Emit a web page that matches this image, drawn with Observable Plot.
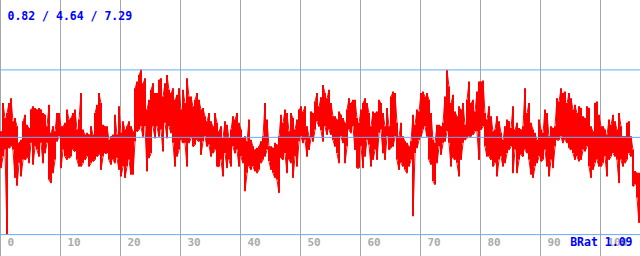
<!DOCTYPE html>
<html><head><meta charset="utf-8">
<script src="https://cdn.jsdelivr.net/npm/d3@7"></script>
<script src="https://cdn.jsdelivr.net/npm/@observablehq/plot@0.6"></script>
<style>html,body{margin:0;padding:0;background:#fff;overflow:hidden}</style>
</head><body><div id="chart"></div>
<script>
// Column-wise readings (one column = 1/3 x-unit): upper and lower excursions of the trace
const peaks = [
4.86,5.97,5.38,5.58,5.97,6.16,5.25,5.38,5.06,4.41,4.53,5.25,5.51,5.12,4.99,5.71,5.84,5.77,5.71,5.77,5.71,5.58,5.51,5.06,5.90,4.80,5.06,4.86,5.58,5.58,5.06,5.06,5.19,5.71,5.32,5.38,5.58,5.71,4.93,5.32,6.36,4.93,4.73,4.80,4.73,5.06,4.73,5.58,5.90,6.36,5.97,5.12,5.06,5.06,
4.53,4.66,4.73,5.51,4.73,5.84,4.80,5.25,4.93,5.06,5.25,5.06,4.86,6.55,6.81,7.07,7.29,6.75,6.94,5.71,6.10,6.49,6.75,6.36,6.36,6.88,6.94,6.23,6.75,7.07,6.49,6.36,6.55,6.10,6.29,6.55,5.71,6.49,5.97,6.94,6.23,6.23,5.84,6.10,6.36,6.10,5.71,5.77,5.45,5.25,5.58,5.25,5.06,
5.58,5.19,4.86,5.06,4.60,5.25,5.12,4.60,4.93,5.45,5.32,5.58,5.19,4.93,4.60,4.66,4.47,5.32,4.53,4.27,4.14,4.21,4.27,4.47,4.66,5.97,5.32,4.27,4.27,4.21,4.41,4.34,4.66,5.51,5.19,5.71,5.58,4.86,5.58,5.38,4.93,5.32,5.71,5.84,5.64,5.84,5.06,4.66,5.64,5.58,6.03,6.36,5.84,6.20,
6.68,6.36,6.16,6.49,5.97,5.45,5.45,5.32,5.64,5.51,5.38,5.19,5.71,6.16,5.97,6.10,6.10,5.38,5.19,5.71,5.97,6.16,5.97,5.58,5.06,5.64,5.58,5.64,6.10,5.97,5.58,5.06,5.77,5.06,6.23,6.42,6.36,5.19,4.66,5.19,4.66,4.47,4.41,4.27,4.47,5.51,5.12,5.71,5.64,6.36,6.42,6.23,6.36,
6.10,5.58,4.53,4.41,5.12,5.12,5.06,5.19,6.23,7.27,6.62,5.97,6.29,5.64,5.45,5.84,5.71,5.97,5.12,6.10,6.81,5.97,6.10,5.64,6.42,6.81,6.81,6.85,5.58,5.32,5.84,5.45,4.86,4.93,5.45,5.25,4.80,4.53,5.06,5.32,5.25,4.99,5.84,4.93,5.19,4.99,4.93,5.06,6.55,5.58,5.97,5.19,4.93,4.80,
4.53,5.32,4.93,4.80,5.71,5.58,4.66,5.06,4.99,5.06,6.16,6.03,6.55,6.36,6.42,5.97,6.36,6.16,5.71,5.90,5.58,5.84,5.77,5.45,5.38,5.84,5.77,5.06,4.86,5.97,6.03,5.51,5.06,5.06,4.93,4.73,5.32,5.12,5.51,5.25,4.93,5.58,5.06,4.66,4.66,5.19,5.25,4.66,4.14,3.30,3.23,3.23,1.86
];
const troughs = [
3.43,3.88,4.14,0.82,4.21,4.27,4.14,3.04,2.74,3.62,3.10,3.75,3.75,3.82,3.62,4.41,3.56,4.27,4.14,3.88,4.41,3.62,4.01,4.41,2.97,2.84,3.23,3.75,4.47,4.66,3.43,4.14,3.88,3.75,3.82,3.88,4.14,4.08,3.75,3.49,3.49,3.62,3.75,3.88,3.49,3.62,3.69,3.75,3.88,3.95,3.36,3.88,4.01,4.01,
3.75,3.56,3.75,3.62,3.82,3.36,3.10,3.49,3.04,3.49,3.75,3.17,3.17,4.47,4.86,4.93,5.06,4.66,5.06,3.30,3.82,4.01,5.06,4.60,5.06,4.66,4.93,4.08,5.19,4.60,5.06,4.80,4.41,3.49,3.88,4.14,4.53,4.41,4.41,3.49,4.41,4.60,4.27,4.34,4.53,4.47,3.95,4.47,4.66,4.27,4.34,3.88,4.01,
4.14,3.49,3.49,3.75,3.10,4.01,3.43,3.75,3.49,4.27,4.01,4.14,3.49,3.88,3.62,2.52,3.23,3.49,3.36,3.49,3.30,3.23,3.36,3.62,3.75,3.88,4.14,3.69,3.36,3.23,3.04,2.97,2.45,3.82,3.75,4.01,3.23,3.75,3.62,3.04,3.88,3.49,4.47,4.66,4.41,4.53,3.88,4.14,4.60,4.47,4.93,5.25,5.06,4.90,
4.47,5.06,4.73,4.93,4.73,4.53,4.27,4.01,3.62,4.66,4.41,3.62,4.27,4.93,4.80,5.06,4.14,3.43,3.43,4.27,3.43,3.88,4.53,4.34,3.49,3.75,4.14,3.75,4.80,4.93,4.01,3.75,4.66,4.14,4.21,4.27,4.66,3.75,3.36,3.62,3.49,3.36,3.23,3.49,3.75,1.54,4.01,4.21,4.53,4.66,4.93,5.06,4.66,
3.75,3.56,2.91,2.78,3.62,4.27,3.95,4.41,4.47,4.86,4.41,3.49,3.82,3.75,3.62,3.10,3.75,4.41,4.53,4.60,4.66,4.66,4.73,4.86,4.86,3.75,4.93,5.06,4.27,3.88,3.88,3.75,3.49,3.62,3.10,3.75,3.88,3.49,3.62,4.01,4.14,4.27,3.23,4.14,3.23,3.75,3.95,3.88,4.14,4.01,3.75,3.17,3.04,3.50,
3.62,3.88,3.69,3.75,4.14,3.49,3.10,3.75,3.43,4.27,4.53,4.53,4.66,4.41,4.53,4.41,4.21,4.14,4.01,3.75,3.88,3.69,3.75,4.14,4.08,4.27,3.49,3.04,3.36,3.62,3.75,3.49,3.49,3.62,3.88,3.10,3.75,3.88,4.01,3.88,3.75,2.84,3.75,3.49,3.62,3.75,4.01,3.88,2.71,2.78,2.26,1.28,1.41
];
const stats = [0.82, 4.64, 7.29];          // min / mean / max
const xTicks = [0, 10, 20, 30, 40, 50, 60, 70, 80, 90, 100];
const ratioName = "BRat";
const ratioValue = 1.09;

// One record per column: its centre position and its lower / upper excursion
const columnsPerUnit = 3;
const columns = peaks.map((h, i) => ({t: (i + 0.5) / columnsPerUnit, hi: h, lo: troughs[i]}));
// Zig-zag connection between neighbouring columns
const points = [];
columns.forEach((c, i) => {
  const pair = i % 2 === 0 ? [c.hi, c.lo] : [c.lo, c.hi];
  points.push({t: c.t, v: pair[0]}, {t: c.t, v: pair[1]});
});

const mono = "'DejaVu Sans Mono', 'Liberation Mono', monospace";
const chart = Plot.plot({
  width: 640,
  height: 256,
  margin: 0,
  x: {domain: [0, 640 / 6], range: [0, 640], axis: null},
  y: {domain: [0, 10], range: [255, 0.4], axis: null},
  style: {background: "#ffffff", fontFamily: mono},
  marks: [
    Plot.ruleX(xTicks, {stroke: "#a8a8a8", strokeWidth: 1}),
    Plot.ruleX(columns, {x: "t", y1: "lo", y2: "hi", stroke: "#ff0000", strokeWidth: 2, dx: -0.5}),
    Plot.line(points, {x: "t", y: "v", stroke: "#ff0000", strokeWidth: 1, dx: -0.5}),
    Plot.ruleY(stats, {stroke: "#66aaff", strokeWidth: 1}),
    Plot.text(xTicks, {x: d => d, frameAnchor: "bottom", textAnchor: "start", lineAnchor: "bottom",
      dx: 7, dy: -11, text: d => String(d), fill: "#aaaaaa", fontSize: 11, fontWeight: "bold"}),
    Plot.text([stats.map(d => d.toFixed(2)).join(" / ")], {frameAnchor: "top-left", textAnchor: "start",
      lineAnchor: "bottom", dx: 7, dy: 19, fill: "#0000ff", fontSize: 11.5, fontWeight: "bold"}),
    Plot.text([`${ratioName} ${ratioValue.toFixed(2)}`], {frameAnchor: "bottom-right", textAnchor: "end",
      lineAnchor: "bottom", dx: -8, dy: -11, fill: "#0000ff", fontSize: 11.5, fontWeight: "bold"})
  ]
});
document.getElementById("chart").append(chart);
</script>
</body></html>
